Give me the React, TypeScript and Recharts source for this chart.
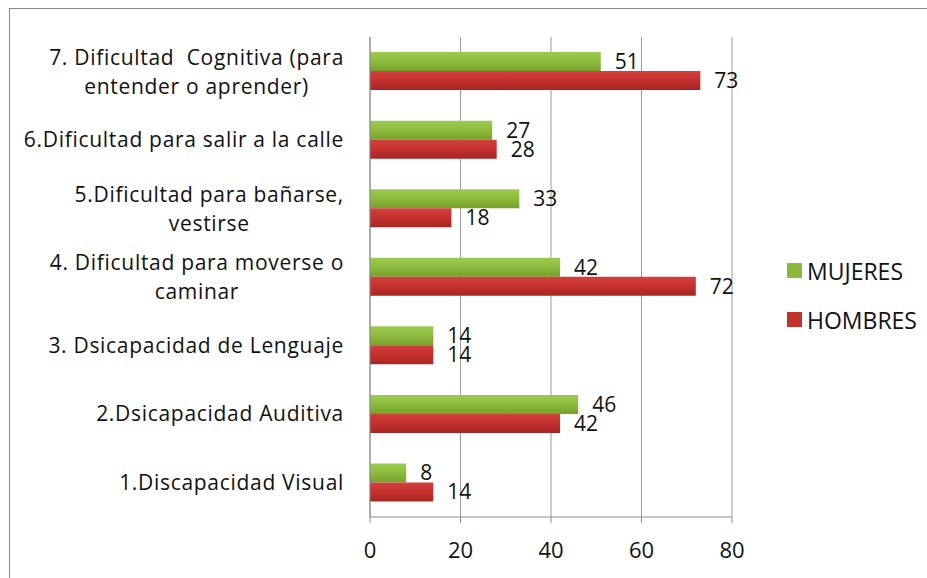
import { Bar, BarChart, CartesianGrid, LabelList, Legend, XAxis, YAxis } from 'recharts';

const categories = [
    ['7. Dificultad  Cognitiva (para', 'entender o aprender)'],
    ['6.Dificultad para salir a la calle'],
    ['5.Dificultad para bañarse,', 'vestirse'],
    ['4. Dificultad para moverse o', 'caminar'],
    ['3. Dsicapacidad de Lenguaje'],
    ['2.Dsicapacidad Auditiva'],
    ['1.Discapacidad Visual'],
];
const mujeres = [51, 27, 33, 42, 14, 46, 8];
const hombres = [73, 28, 18, 72, 14, 42, 14];
const xTicks = [0, 20, 40, 60, 80];

const FONT = '"Open Sans", "Noto Sans", sans-serif';
const LABEL_SIZE = 21;
const LABEL_SPACING = 0.7;

const data = categories.map((lines, i) => ({
    name: lines.join(' '),
    lines,
    MUJERES: mujeres[i],
    HOMBRES: hombres[i],
}));

let ctx: CanvasRenderingContext2D | null = null;
const measure = (text: string, size: number) => {
    if (!ctx) ctx = document.createElement('canvas').getContext('2d');
    if (!ctx) return text.length * size * 0.5;
    ctx.font = `${size}px "Open Sans"`;
    return ctx.measureText(text).width + text.length * LABEL_SPACING;
};

const CategoryTick = (props: any) => {
    const { x, y, payload } = props;
    const row = data.find((d) => d.name === payload.value);
    const lines = row ? row.lines : [payload.value];
    const right = x - 18;
    const style = { whiteSpace: 'pre' as const, letterSpacing: LABEL_SPACING };
    if (lines.length === 1) {
        return (
            <text x={right} y={y} dy="0.35em" textAnchor="end" fontSize={LABEL_SIZE} fontFamily={FONT} fill="#111" style={style}>
                {lines[0]}
            </text>
        );
    }
    const w = measure(lines[0], LABEL_SIZE);
    const cx = right - w / 2;
    return (
        <text textAnchor="middle" fontSize={LABEL_SIZE} fontFamily={FONT} fill="#111" style={style}>
            <tspan x={cx} y={y - 14} dy="0.35em">{lines[0]}</tspan>
            <tspan x={cx} y={y + 15} dy="0.35em">{lines[1]}</tspan>
        </text>
    );
};

const LegendBox = () => (
    <div style={{ paddingLeft: 55, paddingTop: 12, fontFamily: FONT, fontSize: 23, color: '#111', whiteSpace: 'nowrap' }}>
        {[
            { label: 'MUJERES', color: '#8cb83c' },
            { label: 'HOMBRES', color: '#c0322f' },
        ].map((item, i) => (
            <div key={item.label} style={{ display: 'flex', alignItems: 'center', marginTop: i ? 23 : 0, height: 26 }}>
                <span style={{ width: 15, height: 15, flexShrink: 0, background: item.color, marginRight: 5, display: 'inline-block' }} />
                {item.label}
            </div>
        ))}
    </div>
);

const DisabilityChart = () => {
    return (
        <div style={{ position: 'absolute', left: 0, top: 0, width: 927, height: 578, overflow: 'hidden', background: '#fff' }}>
            <div style={{ position: 'absolute', left: 9, top: 8, width: 940, height: 600, border: '1px solid #8a8a8a' }} />
            <BarChart
                width={927}
                height={578}
                data={data}
                layout="vertical"
                margin={{ top: 37, right: 45, left: 0, bottom: 0 }}
                barCategoryGap="22%"
                barGap={0}
            >
                <defs>
                    <linearGradient id="gGreen" x1="0" y1="0" x2="0" y2="1">
                        <stop offset="0%" stopColor="#9ccb52" />
                        <stop offset="50%" stopColor="#8cbb3c" />
                        <stop offset="100%" stopColor="#76a02c" />
                    </linearGradient>
                    <linearGradient id="gRed" x1="0" y1="0" x2="0" y2="1">
                        <stop offset="0%" stopColor="#d2403d" />
                        <stop offset="50%" stopColor="#c4302e" />
                        <stop offset="100%" stopColor="#a52624" />
                    </linearGradient>
                </defs>
                <CartesianGrid horizontal={false} stroke="#9a9a9a" />
                <XAxis
                    type="number"
                    domain={[0, 80]}
                    ticks={xTicks}
                    height={61}
                    stroke="#8c8c8c"
                    tickSize={6}
                    tickMargin={19}
                    tick={{ fontSize: 22, fontFamily: FONT, fill: '#111' }}
                />
                <YAxis
                    type="category"
                    dataKey="name"
                    width={370}
                    stroke="#8c8c8c"
                    tickLine={false}
                    tick={<CategoryTick />}
                    interval={0}
                />
                <Legend
                    layout="vertical"
                    align="right"
                    verticalAlign="middle"
                    wrapperStyle={{ width: 150 }}
                    content={<LegendBox />}
                />
                <Bar dataKey="MUJERES" fill="url(#gGreen)" isAnimationActive={false}>
                    <LabelList dataKey="MUJERES" position="right" offset={14} fontSize={21} fontFamily={FONT} fill="#111" />
                </Bar>
                <Bar dataKey="HOMBRES" fill="url(#gRed)" isAnimationActive={false}>
                    <LabelList dataKey="HOMBRES" position="right" offset={14} fontSize={21} fontFamily={FONT} fill="#111" />
                </Bar>
            </BarChart>
        </div>
    );
};

export default DisabilityChart;
